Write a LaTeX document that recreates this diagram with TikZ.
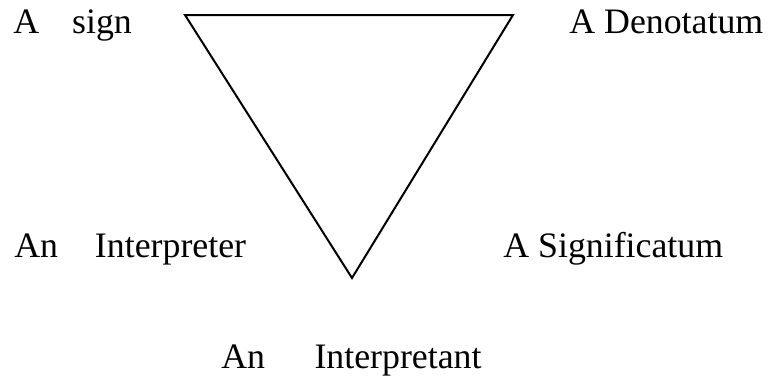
\documentclass[tikz,border=0pt]{standalone}
\usepackage{fontspec}
\setmainfont{Liberation Serif}
\begin{document}
\begin{tikzpicture}[x=0.5pt,y=-0.5pt,
  lbl/.style={anchor=base west, inner sep=0pt, font=\fontsize{17.9}{21}\selectfont},
  tri/.style={line width=1pt, line join=miter}]
\useasboundingbox (0,0) rectangle (768,376);
\coordinate (tl) at (185,15);
\coordinate (tr) at (513,15);
\coordinate (bt) at (352,278);
\draw[tri] (tl) -- (tr) -- (bt) -- cycle;
\node[lbl] (sign) at (13,33) {A\hspace{0.92em}sign};
\node[lbl] (denot) at (569,33) {A Denotatum};
\node[lbl] (interpreter) at (14,257) {An\hspace{1.03em}Interpreter};
\node[lbl] (signif) at (503,257) {A Significatum};
\node[lbl] (interpretant) at (221,368) {An\hspace{1.38em}Interpretant};
\end{tikzpicture}
\end{document}
